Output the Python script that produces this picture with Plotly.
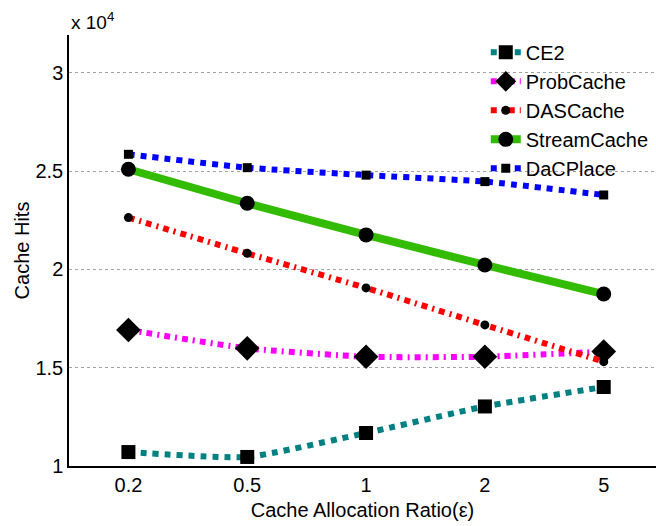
import plotly.graph_objects as go

# Cache allocation ratios (categorical x axis)
ratios = ["0.2", "0.5", "1", "2", "5"]

# Cache hits per scheme
ce2 = [10710, 10460, 11680, 13030, 14020]
probcache = [16920, 15990, 15560, 15560, 15820]
dascache = [22640, 20820, 19060, 17180, 15310]
streamcache = [25100, 23370, 21760, 20230, 18750]
dacplace = [25860, 25180, 24800, 24470, 23790]

y_ticks = [10000, 15000, 20000, 25000, 30000]
y_tick_labels = ["1", "1.5", "2", "2.5", "3"]

series = [
    ("CE2", ce2, "#008080", "6px,6px", 6, "square", 14),
    ("ProbCache", probcache, "#ff00ff", "6px,5px,2px,5px", 6, "diamond", 19),
    ("DASCache", dascache, "#ff0000", "6px,5px,2px,5px", 6, "circle", 9),
    ("StreamCache", streamcache, "#33bb00", "solid", 8, "circle", 15),
    ("DaCPlace", dacplace, "#0000ff", "6px,6px", 6, "square", 9),
]

fig = go.Figure()
for name, vals, color, dash, width, symbol, size in series:
    fig.add_trace(go.Scatter(
        x=ratios, y=vals, name=name, mode="lines+markers",
        line=dict(color=color, width=width, dash=dash, shape="spline", smoothing=0.5),
        marker=dict(symbol=symbol, size=size, color="black", line=dict(width=0)),
    ))

font_family = "Liberation Sans, Arial, Helvetica, sans-serif"
fs = 20

fig.update_layout(
    width=656, height=526,
    margin=dict(l=69, r=0, t=35, b=60),
    paper_bgcolor="white", plot_bgcolor="white",
    font=dict(family=font_family, size=fs, color="black"),
    showlegend=True,
    legend=dict(
        x=0.71, y=1.005, xanchor="left", yanchor="top",
        bgcolor="rgba(0,0,0,0)", borderwidth=0,
        font=dict(size=fs), itemwidth=30, tracegroupgap=0,
    ),
    xaxis=dict(
        type="category", range=[-0.5, 4.44],
        showline=True, linecolor="black", linewidth=1.5,
        showgrid=False, ticks="", zeroline=False,
        title=dict(text="Cache Allocation Ratio(ε)", font=dict(size=fs), standoff=8),
        tickfont=dict(size=fs),
    ),
    yaxis=dict(
        range=[10000, 31930],
        tickvals=y_ticks, ticktext=y_tick_labels,
        showline=True, linecolor="black", linewidth=1.5,
        showgrid=True, gridcolor="#a0a0a0", griddash="dot", gridwidth=1,
        ticks="", zeroline=False,
        title=dict(text="Cache Hits", font=dict(size=fs), standoff=0),
        tickfont=dict(size=fs),
    ),
    annotations=[dict(
        text="x 10<sup>4</sup>", xref="paper", yref="paper",
        x=0.0, y=1.0, xanchor="left", yanchor="bottom",
        showarrow=False, font=dict(size=19),
    )],
)

fig.write_html("out.html")
